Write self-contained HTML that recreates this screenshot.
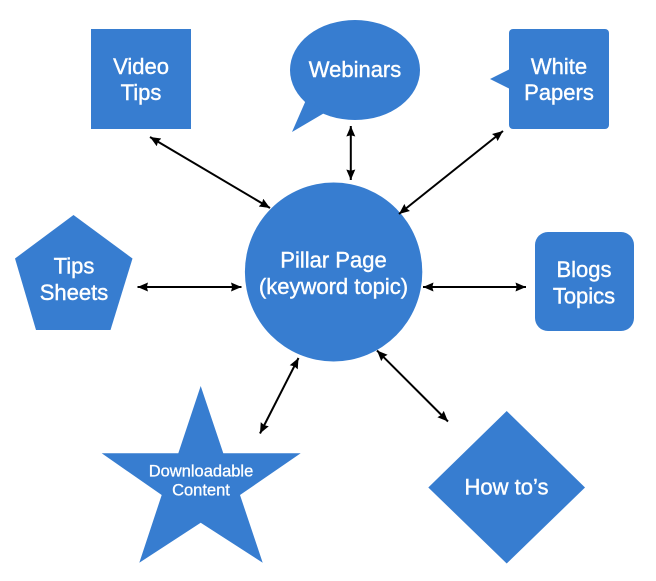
<!DOCTYPE html>
<html>
<head>
<meta charset="utf-8">
<style>
  html, body { margin: 0; padding: 0; background: #ffffff; }
  svg { display: block; }
  text { font-family: "Liberation Sans", "DejaVu Sans", sans-serif; fill: #ffffff; stroke: #ffffff; stroke-width: 0.4px; text-anchor: middle; }
</style>
</head>
<body>
<svg width="656" height="581" viewBox="0 0 656 581" xmlns="http://www.w3.org/2000/svg">
  <defs>
    <marker id="ah" markerUnits="userSpaceOnUse" markerWidth="12" markerHeight="11" refX="10.5" refY="5" orient="auto-start-reverse">
      <path d="M0,0.5 L10.5,5 L0,9.5 L1.2,5 z" fill="#000"/>
    </marker>
  </defs>

  <!-- Video Tips -->
  <rect x="91" y="29" width="100" height="100" fill="#377dd0"/>
  <text x="141" y="74" font-size="22">Video</text>
  <text x="141" y="100" font-size="22">Tips</text>

  <!-- Webinars bubble -->
  <ellipse cx="355" cy="70" rx="65" ry="50" fill="#377dd0"/>
  <polygon points="306,100 292,132 326,112" fill="#377dd0"/>
  <text x="355" y="77" font-size="22">Webinars</text>

  <!-- White Papers -->
  <rect x="509" y="29" width="100" height="100" rx="4" ry="4" fill="#377dd0"/>
  <polygon points="510,69 490,79 510,89" fill="#377dd0"/>
  <text x="559" y="74" font-size="22">White</text>
  <text x="559" y="100" font-size="22">Papers</text>

  <!-- Pillar -->
  <ellipse cx="333.6" cy="272" rx="88.7" ry="89.5" fill="#377dd0"/>
  <text x="333.5" y="267.5" font-size="22">Pillar Page</text>
  <text x="333.5" y="294" font-size="22">(keyword topic)</text>

  <!-- Tips Sheets pentagon -->
  <polygon points="73.5,215 132.5,258.5 110.5,330 36,330 15,258.5" fill="#377dd0"/>
  <text x="74" y="273.5" font-size="22">Tips</text>
  <text x="74" y="300" font-size="22">Sheets</text>

  <!-- Blogs Topics -->
  <rect x="535" y="232" width="99" height="99" rx="13" ry="13" fill="#377dd0"/>
  <text x="584" y="277" font-size="22">Blogs</text>
  <text x="584" y="303.5" font-size="22">Topics</text>

  <!-- Star -->
  <polygon points="200.7,386 223.3,453.3 300.7,453.3 240,495 262.7,562.7 200.7,522.7 139.3,562.7 161.7,495 101.7,453.3 178.3,453.3" fill="#377dd0"/>
  <text x="201" y="476.7" font-size="16.5" style="stroke-width:0.3px">Downloadable</text>
  <text x="201" y="495.7" font-size="16.5" style="stroke-width:0.3px">Content</text>

  <!-- Diamond -->
  <polygon points="506.7,411 585,487.5 506.7,563.5 428.3,487.5" fill="#377dd0"/>
  <text x="506.5" y="494.5" font-size="22">How to’s</text>

  <!-- Connectors -->
  <g stroke="#000" stroke-width="2" fill="none">
    <line x1="150" y1="137" x2="270" y2="208" marker-start="url(#ah)" marker-end="url(#ah)"/>
    <line x1="350.8" y1="126" x2="350.8" y2="180" marker-start="url(#ah)" marker-end="url(#ah)"/>
    <line x1="503" y1="131" x2="399" y2="214" marker-start="url(#ah)" marker-end="url(#ah)"/>
    <line x1="137.5" y1="287" x2="241.5" y2="287" marker-start="url(#ah)" marker-end="url(#ah)"/>
    <line x1="423" y1="287" x2="526" y2="287" marker-start="url(#ah)" marker-end="url(#ah)"/>
    <line x1="260" y1="433.5" x2="298.5" y2="358" marker-start="url(#ah)" marker-end="url(#ah)"/>
    <line x1="377" y1="350.5" x2="448" y2="421.5" marker-start="url(#ah)" marker-end="url(#ah)"/>
  </g>
</svg>
</body>
</html>
